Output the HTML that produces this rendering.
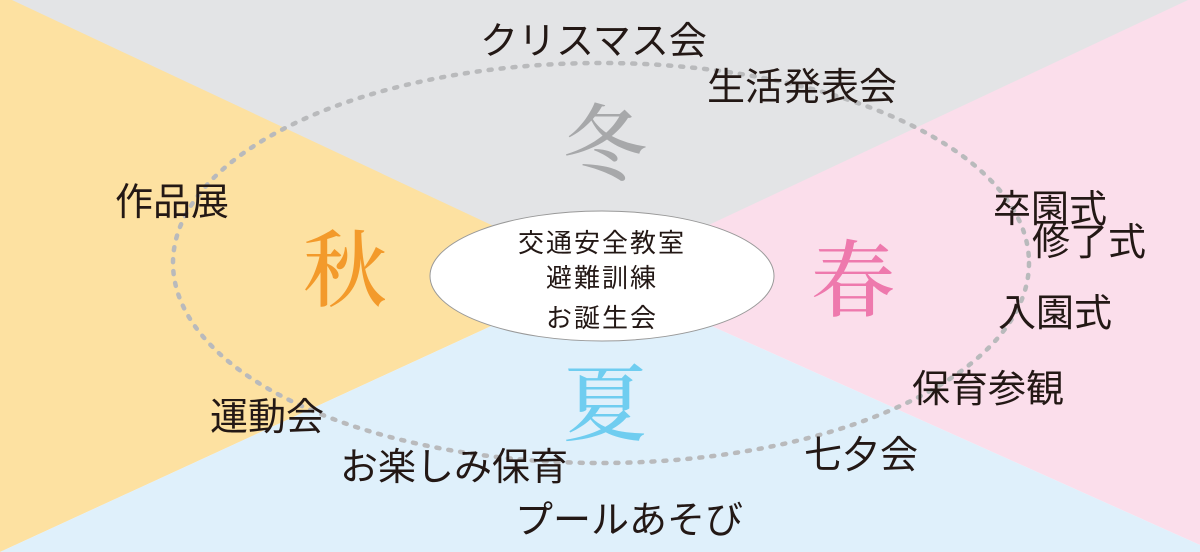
<!DOCTYPE html>
<html><head><meta charset="utf-8"><style>
body{margin:0;width:1200px;height:552px;overflow:hidden;position:relative;font-family:"Liberation Sans","Noto Sans CJK JP",sans-serif}
.t{position:absolute;font-size:38px;color:#231815;white-space:nowrap;line-height:1}
.s{position:absolute;font-family:"Liberation Serif","Noto Serif CJK SC",serif;font-size:84px;line-height:1;font-weight:500}
.c{position:absolute;font-size:26px;color:#231815;letter-spacing:2px;width:200px;text-align:center;left:502px;line-height:1}
</style></head><body>
<svg width="1200" height="552" style="position:absolute;left:0;top:0">
<polygon points="0,0 1200,0 600,276" fill="#e3e4e6"/>
<polygon points="0,0 12,0 600,276 0,552" fill="#fde1a1"/>
<polygon points="1188,0 1200,0 1200,545 600,276" fill="#fbdeeb"/>
<polygon points="0,552 600,276 1200,545 1200,552" fill="#dff0fb"/>
<ellipse cx="601" cy="263" rx="428" ry="200" fill="none" stroke="#b9babc" stroke-width="4.5" stroke-dasharray="3 9" stroke-linecap="round"/>
<ellipse cx="602" cy="276" rx="172" ry="65" fill="#fff" stroke="#999" stroke-width="1"/>
</svg>
<div class="s" style="left:563px;top:105px;color:#a7a8aa">冬</div>
<div class="s" style="left:303px;top:231px;color:#f39a2b">秋</div>
<div class="s" style="left:811px;top:241px;color:#ee79ad">春</div>
<div class="s" style="left:563px;top:365px;color:#6fcdf0">夏</div>
<div class="c" style="top:230px">交通安全教室</div>
<div class="c" style="top:265px">避難訓練</div>
<div class="c" style="top:305px">お誕生会</div>
<div class="t" style="left:480px;top:23px">クリスマス会</div>
<div class="t" style="left:707px;top:69px">生活発表会</div>
<div class="t" style="left:115px;top:184px">作品展</div>
<div class="t" style="left:993px;top:191px">卒園式</div>
<div class="t" style="left:1032px;top:224px">修了式</div>
<div class="t" style="left:998px;top:295px">入園式</div>
<div class="t" style="left:912px;top:371px">保育参観</div>
<div class="t" style="left:210px;top:399px">運動会</div>
<div class="t" style="left:804px;top:437px">七夕会</div>
<div class="t" style="left:340px;top:449px">お楽しみ保育</div>
<div class="t" style="left:515px;top:502px">プールあそび</div>
</body></html>
